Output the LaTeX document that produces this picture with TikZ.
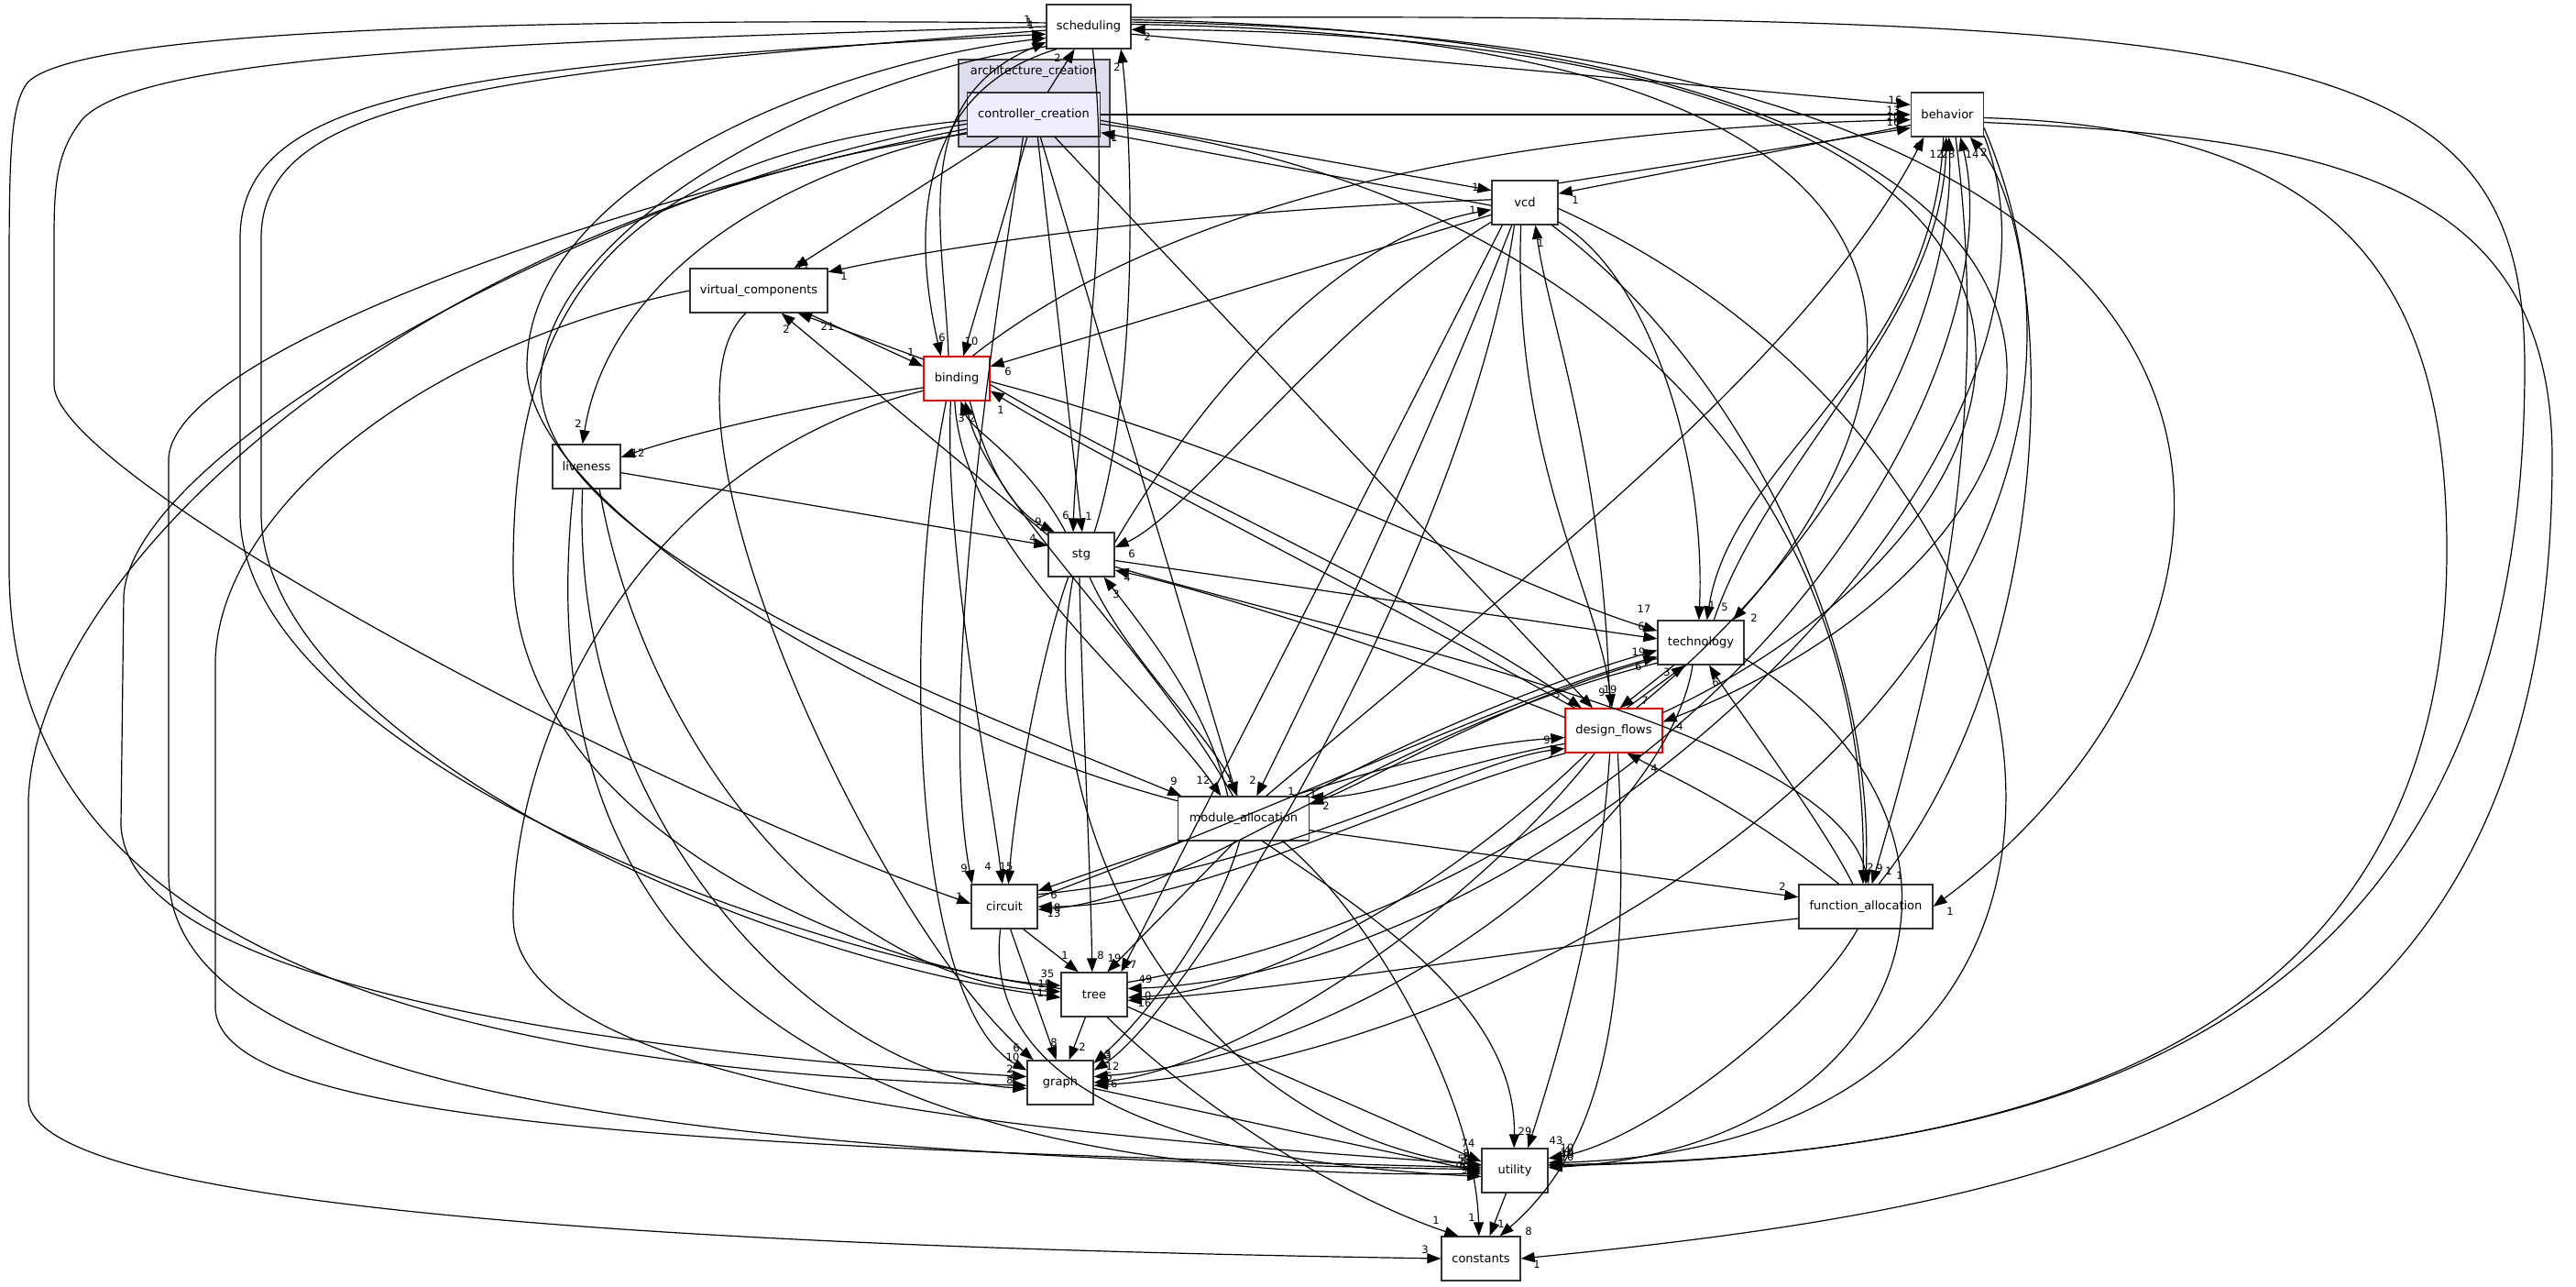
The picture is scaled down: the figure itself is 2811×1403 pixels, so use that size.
\documentclass[tikz,border=0pt]{standalone}
\usepackage{fontspec}
\setmainfont{DejaVu Sans}
\usetikzlibrary{arrows.meta}
\definecolor{clfill}{HTML}{DDDDEE}
\definecolor{ccfill}{HTML}{EEEEFF}
\begin{document}
\begin{tikzpicture}[x=1pt,y=-1pt,
  box/.style={draw=black!80, line width=1.3pt, fill=white, minimum height=48pt, inner sep=0pt, font=\fontsize{13}{15}\selectfont},
  redbox/.style={box, draw=red},
  e/.style={line width=1.2pt, -{Triangle[length=15pt,width=11pt]}},
  lbl/.style={font=\fontsize{11.5}{13}\selectfont, inner sep=0pt}]
\fill[white] (0,0) rectangle (2811,1403);
\useasboundingbox (0,0) rectangle (2811,1403);
% cluster
\node[draw=black!75, line width=2pt, fill=clfill, minimum width=165pt, minimum height=95pt, inner sep=0pt] (arch) at (1128.5,112.5) {};
\node[font=\fontsize{13}{15}\selectfont] (archlbl) at (1128,78) {architecture\_creation};
% nodes
\node[box, minimum width=92pt] (sch) at (1188,29) {scheduling};
\node[box, minimum width=145pt, fill=ccfill] (cc) at (1128,125) {controller\_creation};
\node[box, minimum width=79pt] (beh) at (2125,125) {behavior};
\node[box, minimum width=72pt] (vcd) at (1664,221) {vcd};
\node[box, minimum width=150pt] (vc) at (828,317) {virtual\_components};
\node[redbox, minimum width=72pt] (bind) at (1044,413) {binding};
\node[box, minimum width=74pt] (live) at (640,509) {liveness};
\node[box, minimum width=72pt] (stg) at (1180,605) {stg};
\node[box, minimum width=94pt] (tech) at (1856,701) {technology};
\node[redbox, minimum width=106pt] (df) at (1761,797) {design\_flows};
\node[box, minimum width=143pt] (ma) at (1357,893) {module\_allocation};
\node[box, minimum width=72pt] (circ) at (1096,989) {circuit};
\node[box, minimum width=146pt] (fa) at (2036,989) {function\_allocation};
\node[box, minimum width=72pt] (tree) at (1194,1085) {tree};
\node[box, minimum width=72pt] (graph) at (1157,1181) {graph};
\node[box, minimum width=72pt] (util) at (1653,1277) {utility};
\node[box, minimum width=86pt] (const) at (1616,1373) {constants};
% ---- into scheduling
\draw[e] (cc) -- (sch) node[lbl,at={(1154,63)}]{2};
\draw[e] (stg.60) .. controls (1245,420) and (1235,150) .. (sch.-35) node[lbl,at={(1219,73)}]{2};
\draw[e] (df.20) .. controls (2280,560) and (2420,34) .. (sch.-4) node[lbl,at={(1252,40)}]{2};
\draw[e] (tree.170) .. controls (800,1030) and (262,800) .. (262,560) -- (262,260) .. controls (262,100) and (500,72) .. (sch.190) node[lbl,at={(1121,21)}]{1};
\draw[e] (ma.165) .. controls (1000,800) and (575,560) .. (575,400) .. controls (575,200) and (900,70) .. (sch.195) node[lbl,at={(1123,24)}]{1};
\draw[e] (bind.110) .. controls (1030,250) and (990,110) .. (sch.200) node[lbl,at={(1125,27)}]{1};
% ---- out of scheduling
\draw[e] (sch.-10) -- (beh.165) node[lbl,at={(2068,109)}]{16};
\draw[e] (sch.175) .. controls (600,20) and (90,30) .. (30,90) .. controls (12,115) and (10,160) .. (10,300) -- (10,620) .. controls (10,1000) and (400,1165) .. (graph.185) node[lbl,at={(1104,1172)}]{2};
\draw[e] (sch.180) .. controls (600,45) and (160,55) .. (90,130) .. controls (62,165) and (59,200) .. (59,260) -- (59,420) .. controls (60,520) and (700,860) .. (circ.175) node[lbl,at={(1047,978)}]{1};
\draw[e] (sch.185) .. controls (520,80) and (285,110) .. (285,260) -- (285,560) .. controls (285,800) and (800,1040) .. (tree.185) node[lbl,at={(1140,1073)}]{19};
\draw[e] (sch.205) .. controls (900,85) and (590,250) .. (590,420) .. controls (590,600) and (1050,770) .. (ma.160) node[lbl,at={(1281,852)}]{9};
\draw[e] (sch.215) .. controls (1000,100) and (995,250) .. (bind.125) node[lbl,at={(1028,368)}]{6};
\draw[e] (sch.-80) .. controls (1215,250) and (1175,450) .. (stg.110) node[lbl,at={(1163,562)}]{6};
\draw[e] (sch.3) .. controls (2300,40) and (2050,500) .. (tech.35) node[lbl,at={(1914,674)}]{2};
\draw[e] (sch.9) .. controls (2470,45) and (2320,590) .. (df.10) node[lbl,at={(1833,792)}]{4};
\draw[e] (sch.6) .. controls (2620,40) and (2500,700) .. (fa.east) node[lbl,at={(2128,994)}]{1};
\draw[e] (sch.12) .. controls (2500,15) and (2755,40) .. (2755,400) .. controls (2755,1100) and (2300,1262) .. (util.10) node[lbl,at={(1710,1257)}]{10};
% ---- controller_creation
\draw[e] (vcd.185) -- (cc.-15) node[lbl,at={(1216,150)}]{1};
\draw[e] (cc.-5) -- (vcd.160) node[lbl,at={(1610,204)}]{1};
\draw[e] (cc.east) -- (beh.west) node[lbl,at={(2066,120)}]{13};
\draw[e] (cc) -- (vc) node[lbl,at={(876,289)}]{11};
\draw[e] (cc) -- (bind) node[lbl,at={(1060,372)}]{10};
\draw[e] (cc) -- (ma) node[lbl,at={(1367,851)}]{2};
\draw[e] (cc) -- (df) node[lbl,at={(1748,755)}]{9};
\draw[e] (cc.-80) -- (stg.88) node[lbl,at={(1188,563)}]{1};
\draw[e] (cc.195) .. controls (800,200) and (660,330) .. (live.100) node[lbl,at={(631,462)}]{2};
\draw[e] (cc.-115) .. controls (1060,500) and (1030,800) .. (circ.145) node[lbl,at={(1052,947)}]{9};
\draw[e] (cc.185) .. controls (650,170) and (560,350) .. (560,620) .. controls (560,900) and (950,1060) .. (tree.165) node[lbl,at={(1143,1062)}]{35};
\draw[e] (cc.188) .. controls (700,190) and (145,480) .. (135,650) -- (132,900) .. controls (140,1080) and (700,1150) .. (graph.170) node[lbl,at={(1105,1153)}]{10};
\draw[e] (cc.192) .. controls (700,210) and (190,380) .. (184,500) -- (184,950) .. controls (180,1200) and (800,1262) .. (util.178) node[lbl,at={(1598,1264)}]{59};
\draw[e] (cc.196) .. controls (500,220) and (40,600) .. (31,873) -- (31,1200) .. controls (35,1330) and (900,1362) .. (const.west) node[lbl,at={(1555,1363)}]{3};
\draw[e] (cc.-8) .. controls (1700,200) and (2040,500) .. (fa.97) node[lbl,at={(2041,946)}]{2};
% ---- behavior
\draw[e] (bind.55) .. controls (1300,200) and (1700,140) .. (beh.188) node[lbl,at={(2066,127)}]{10};
\draw[e] (vcd.30) -- (beh.200) node[lbl,at={(2066,133)}]{16};
\draw[e] (beh.196) -- (vcd.15) node[lbl,at={(1719,218)}]{1};
\draw[e] (ma.45) .. controls (1700,600) and (1980,380) .. (beh.-136) node[lbl,at={(2093,160)}]{8};
\draw[e] (tech.60) .. controls (1930,500) and (2120,350) .. (beh.-93) node[lbl,at={(2113,168)}]{12};
\draw[e] (df.45) .. controls (2000,600) and (2135,350) .. (beh.-86) node[lbl,at={(2126,168)}]{28};
\draw[e] (beh.-100) .. controls (2110,400) and (1890,500) .. (tech.75) node[lbl,at={(1882,662)}]{5};
\draw[e] (tree.20) .. controls (1900,950) and (2200,400) .. (beh.-60) node[lbl,at={(2152,168)}]{14};
\draw[e] (fa.60) .. controls (2260,700) and (2240,250) .. (beh.-45) node[lbl,at={(2165,166)}]{2};
% ---- vcd
\draw[e] (stg.20) .. controls (1300,450) and (1450,260) .. (vcd.192) node[lbl,at={(1607,229)}]{1};
\draw[e] (vcd.-150) .. controls (1450,350) and (1300,560) .. (stg.12) node[lbl,at={(1235,604)}]{6};
\draw[e] (df.100) .. controls (1750,500) and (1690,350) .. (vcd.-65) node[lbl,at={(1681,265)}]{1};
\draw[e] (vcd.-120) .. controls (1550,500) and (1430,750) .. (ma.60) node[lbl,at={(1409,863)}]{1};
\draw[e] (vcd.-100) .. controls (1650,500) and (1745,650) .. (df.95) node[lbl,at={(1757,752)}]{19};
\draw[e] (vcd.-135) -- (tree.40) node[lbl,at={(1233,1052)}]{17};
\draw[e] (vcd.-40) .. controls (1900,400) and (2045,700) .. (fa.90) node[lbl,at={(2051,947)}]{9};
\draw[e] (vcd.-115) .. controls (1600,600) and (1300,1100) .. (graph.20) node[lbl,at={(1209,1152)}]{3};
\draw[e] (vcd.200) -- (bind.20) node[lbl,at={(1100,405)}]{6};
\draw[e] (vcd.-10) .. controls (2300,500) and (2400,1250) .. (util.13) node[lbl,at={(1710,1252)}]{10};
\draw[e] (vcd.-30) .. controls (1800,300) and (1862,500) .. (tech.95) node[lbl,at={(1868,660)}]{1};
% ---- virtual_components
\draw[e] (vcd.175) .. controls (1300,230) and (1050,265) .. (vc.15) node[lbl,at={(921,301)}]{1};
\draw[e] (bind.150) -- (vc.-30) node[lbl,at={(903,356)}]{21};
\draw[e] (vc.-25) -- (bind.160) node[lbl,at={(994,384)}]{1};
\draw[e] (stg.150) -- (vc.-45) node[lbl,at={(858,359)}]{2};
\draw[e] (vc.west) .. controls (450,380) and (240,560) .. (235,720) -- (235,1100) .. controls (240,1230) and (800,1252) .. (util.175) node[lbl,at={(1596,1272)}]{90};
\draw[e] (vc.-120) .. controls (700,450) and (950,1000) .. (graph.140) node[lbl,at={(1109,1143)}]{6};
% ---- binding
\draw[e] (bind.195) .. controls (900,440) and (760,470) .. (live.15) node[lbl,at={(696,494)}]{12};
\draw[e] (bind.-60) .. controls (1080,520) and (1110,560) .. (stg.140) node[lbl,at={(1133,569)}]{9};
\draw[e] (stg.125) .. controls (1120,500) and (1060,470) .. (bind.-80) node[lbl,at={(1049,456)}]{3};
\draw[e] (ma.115) .. controls (1250,700) and (1080,550) .. (bind.-70) node[lbl,at={(1061,456)}]{2};
\draw[e] (df.150) .. controls (1500,650) and (1200,500) .. (bind.-20) node[lbl,at={(1092,447)}]{1};
\draw[e] (bind.-10) .. controls (1250,520) and (1550,650) .. (df.145) node[lbl,at={(1699,757)}]{3};
\draw[e] (bind.-95) .. controls (1050,600) and (1250,750) .. (ma.135) node[lbl,at={(1313,851)}]{12};
\draw[e] (bind.-105) .. controls (1030,600) and (1080,850) .. (circ.95) node[lbl,at={(1078,945)}]{4};
\draw[e] (bind.-115) .. controls (980,700) and (1000,1100) .. (graph.160) node[lbl,at={(1102,1166)}]{2};
\draw[e] (bind.200) .. controls (700,500) and (560,800) .. (560,1000) .. controls (560,1200) and (1200,1240) .. (util.170) node[lbl,at={(1600,1258)}]{8};
\draw[e] (bind.-5) .. controls (1400,500) and (1650,640) .. (tech.165) node[lbl,at={(1794,664)}]{17};
% ---- liveness
\draw[e] (live.-10) -- (stg.165) node[lbl,at={(1127,587)}]{4};
\draw[e] (live.-60) .. controls (700,800) and (900,1070) .. (tree.175) node[lbl,at={(1139,1083)}]{17};
\draw[e] (live.-100) .. controls (620,900) and (900,1175) .. (graph.190) node[lbl,at={(1102,1178)}]{8};
\draw[e] (live.-120) .. controls (570,1050) and (900,1290) .. (util.185) node[lbl,at={(1598,1276)}]{9};
% ---- stg
\draw[e] (stg.-120) .. controls (1140,700) and (1110,850) .. (circ.80) node[lbl,at={(1098,945)}]{15};
\draw[e] (stg.-95) .. controls (1182,800) and (1190,950) .. (tree.95) node[lbl,at={(1201,1042)}]{8};
\draw[e] (stg.-10) -- (tech.175) node[lbl,at={(1791,683)}]{6};
\draw[e] (stg.-20) .. controls (1500,700) and (2000,800) .. (fa.83) node[lbl,at={(2061,950)}]{1};
\draw[e] (df.165) .. controls (1500,700) and (1300,640) .. (stg.-25) node[lbl,at={(1230,630)}]{4};
\draw[e] (ma.125) .. controls (1320,780) and (1260,700) .. (stg.-45) node[lbl,at={(1218,648)}]{3};
\draw[e] (stg.-70) .. controls (1230,720) and (1320,800) .. (ma.105) node[lbl,at={(1342,849)}]{1};
\draw[e] (stg.-110) .. controls (1120,900) and (1300,1230) .. (util.172) node[lbl,at={(1597,1267)}]{5};
% ---- technology
\draw[e] (ma.20) .. controls (1550,800) and (1700,740) .. (tech.190) node[lbl,at={(1788,711)}]{19};
\draw[e] (circ.15) .. controls (1400,880) and (1650,760) .. (tech.198) node[lbl,at={(1788,727)}]{6};
\draw[e] (fa.120) .. controls (1990,900) and (1900,780) .. (tech.-70) node[lbl,at={(1872,744)}]{6};
\draw[e] (df.60) -- (tech.-125) node[lbl,at={(1819,733)}]{3};
\draw[e] (tech.-140) -- (df.75) node[lbl,at={(1795,764)}]{7};
\draw[e] (tech.-110) .. controls (1820,900) and (1500,1150) .. (graph.10) node[lbl,at={(1214,1163)}]{12};
\draw[e] (tech.-20) .. controls (2200,900) and (2100,1250) .. (util.5) node[lbl,at={(1710,1262)}]{10};
\draw[e] (tech.200) .. controls (1650,760) and (1500,850) .. (ma.12) node[lbl,at={(1447,879)}]{2};
\draw[e] (tech.205) .. controls (1500,800) and (1300,980) .. (circ.-5) node[lbl,at={(1150,996)}]{13};
% ---- design_flows
\draw[e] (ma.25) .. controls (1500,840) and (1600,812) .. (df.188) node[lbl,at={(1688,807)}]{9};
\draw[e] (circ.20) .. controls (1400,950) and (1600,830) .. (df.200) node[lbl,at={(1693,822)}]{1};
\draw[e] (fa.140) .. controls (1900,880) and (1830,850) .. (df.-60) node[lbl,at={(1805,838)}]{4};
\draw[e] (df.195) .. controls (1600,830) and (1500,870) .. (ma.18) node[lbl,at={(1433,866)}]{1};
\draw[e] (df.205) .. controls (1500,880) and (1300,990) .. (circ.0) node[lbl,at={(1150,990)}]{18};
\draw[e] (df.-140) .. controls (1600,950) and (1400,1080) .. (tree.-5) node[lbl,at={(1249,1094)}]{16};
\draw[e] (df.-130) .. controls (1600,1000) and (1350,1165) .. (graph.0) node[lbl,at={(1210,1174)}]{6};
\draw[e] (df.-100) .. controls (1745,1000) and (1700,1150) .. (util.60) node[lbl,at={(1698,1244)}]{43};
\draw[e] (df.-80) .. controls (1780,1100) and (1750,1250) .. (const.50) node[lbl,at={(1668,1343)}]{8};
% ---- module_allocation
\draw[e] (ma.-160) -- (circ.25) node[lbl,at={(1150,976)}]{6};
\draw[e] (ma.-110) -- (tree.60) node[lbl,at={(1216,1045)}]{19};
\draw[e] (ma.-100) .. controls (1330,1000) and (1260,1100) .. (graph.30) node[lbl,at={(1209,1150)}]{3};
\draw[e] (ma.-10) -- (fa.172) node[lbl,at={(1945,967)}]{2};
\draw[e] (ma.-50) .. controls (1500,1000) and (1655,1100) .. (util.92) node[lbl,at={(1664,1234)}]{29};
\draw[e] (ma.-30) .. controls (1500,1000) and (1610,1200) .. (const.95) node[lbl,at={(1606,1328)}]{1};
% ---- circuit
\draw[e] (circ.-50) -- (tree.125) node[lbl,at={(1162,1042)}]{1};
\draw[e] (circ.-75) -- (graph.100) node[lbl,at={(1150,1137)}]{8};
\draw[e] (circ.-100) .. controls (1075,1150) and (1200,1262) .. (util.190) node[lbl,at={(1600,1262)}]{8};
% ---- function_allocation
\draw[e] (fa.190) .. controls (1700,1030) and (1400,1080) .. (tree.-10) node[lbl,at={(1249,1086)}]{10};
\draw[e] (fa.-110) .. controls (1980,1100) and (1800,1245) .. (util.20) node[lbl,at={(1710,1255)}]{4};
% ---- tree
\draw[e] (beh.-30) .. controls (2300,500) and (1700,1060) .. (tree.10) node[lbl,at={(1250,1068)}]{49};
\draw[e] (tree) -- (graph) node[lbl,at={(1181,1142)}]{2};
\draw[e] (tree.-20) -- (util.165) node[lbl,at={(1602,1247)}]{74};
\draw[e] (tree.-60) .. controls (1300,1200) and (1450,1300) .. (const.135) node[lbl,at={(1567,1331)}]{1};
% ---- graph
\draw[e] (graph.-10) -- (util.182) node[lbl,at={(1600,1272)}]{9};
\draw[e] (beh.-20) .. controls (2400,700) and (1700,1150) .. (graph.-5) node[lbl,at={(1212,1182)}]{26};
% ---- utility / constants
\draw[e] (util) -- (const) node[lbl,at={(1638,1335)}]{1};
\draw[e] (beh.-5) .. controls (2550,140) and (2670,300) .. (2670,600) .. controls (2670,1150) and (2200,1262) .. (util.8) node[lbl,at={(1710,1259)}]{40};
\draw[e] (beh.-12) .. controls (2550,150) and (2785,200) .. (2785,500) .. controls (2785,1200) and (2300,1310) .. (const.east) node[lbl,at={(1677,1379)}]{1};
\draw[e] (beh.-70) .. controls (2180,500) and (2090,800) .. (fa.75) node[lbl,at={(2073,955)}]{1};
\end{tikzpicture}
\end{document}
